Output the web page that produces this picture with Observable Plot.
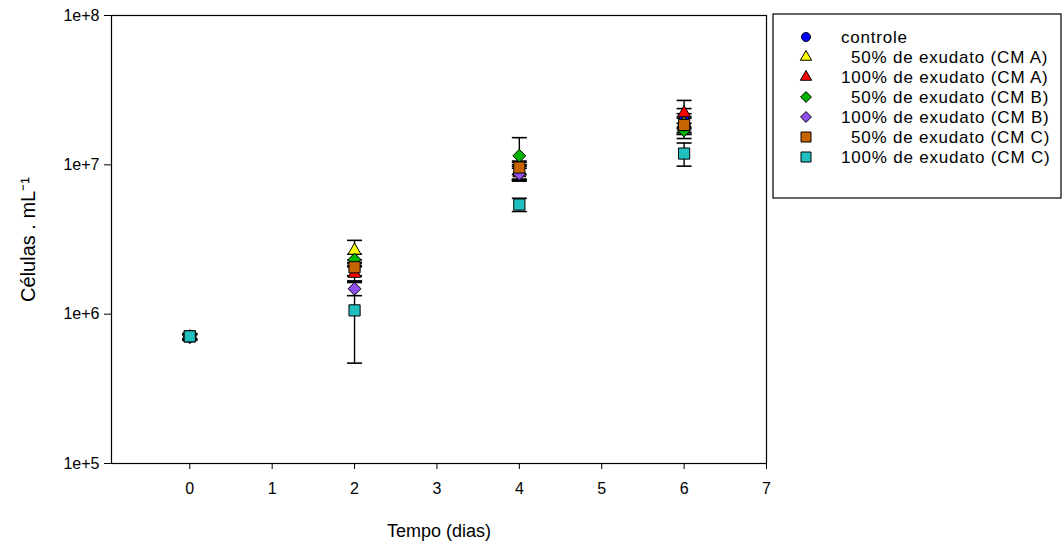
<!DOCTYPE html>
<html>
<head>
<meta charset="utf-8">
<script src="https://cdn.jsdelivr.net/npm/d3@7"></script>
<script src="https://cdn.jsdelivr.net/npm/@observablehq/plot@0.6"></script>
<style>
  html, body { margin: 0; padding: 0; background: white; }
  #chart { position: relative; width: 1064px; height: 547px; }
</style>
</head>
<body>
<div id="chart"></div>
<script>
// ---- data ----
const days = [0, 2, 4, 6];
const seriesNames = [
  "controle",
  "50% de exudato (CM A)",
  "100% de exudato (CM A)",
  "50% de exudato (CM B)",
  "100% de exudato (CM B)",
  "50% de exudato (CM C)",
  "100% de exudato (CM C)"
];
const controle = [7.1e5, 2.0e6, 9.0e6, 2.08e7];
const controleErr = [3e4, 2.0e5, 1.0e6, 3.0e6];
const a50 = [7.0e5, 2.67e6, 9.2e6, 1.9e7];
const a50Err = [3e4, 4.5e5, 1.2e6, 3.0e6];
const a100 = [7.0e5, 1.87e6, 8.8e6, 2.22e7];
const a100Err = [3e4, 2.0e5, 1.0e6, 4.8e6];
const b50 = [7.1e5, 2.32e6, 1.15e7, 1.7e7];
const b50Err = [3e4, 2.0e5, 3.7e6, 2.0e6];
const b100 = [7.0e5, 1.48e6, 8.7e6, 1.85e7];
const b100Err = [3e4, 1.5e5, 8.0e5, 2.5e6];
const c50 = [7.1e5, 2.06e6, 9.6e6, 1.85e7];
const c50Err = [3e4, 2.5e5, 1.0e6, 2.0e6];
const c100 = [7.1e5, 1.06e6, 5.42e6, 1.19e7];
const c100Err = [3e4, 5.9e5, 5.5e5, 2.1e6];
const seriesValues = [controle, a50, a100, b50, b100, c50, c100];
const seriesErrors = [controleErr, a50Err, a100Err, b50Err, b100Err, c50Err, c100Err];
const seriesSymbols = ["circle", "triangle", "triangle", "diamond2", "diamond2", "square", "square"];
const seriesColors = ["#0000ff", "#ffff00", "#ff0000", "#00b400", "#9050f0", "#c86400", "#20c0c0"];
const xTicks = [0, 1, 2, 3, 4, 5, 6, 7];
const yTicks = [1e5, 1e6, 1e7, 1e8];

// marker sizes per symbol type (plot / legend)
const plotR = {circle: 5, triangle: 4.8, diamond2: 5.8, square: 6.3};
const legendArea = {circle: 64, triangle: 55, diamond2: 75, square: 100};

// ---- build table ----
const rows = [];
seriesNames.forEach((name, s) => {
  days.forEach((d, i) => {
    const v = seriesValues[s][i], e = seriesErrors[s][i];
    rows.push({series: name, s, day: d, value: v, lo: v - e, hi: v + e});
  });
});

const capSymbol = {
  draw(context) {
    context.moveTo(-7.5, 0);
    context.lineTo(7.5, 0);
  }
};

const marks = [
  Plot.frame({stroke: "black", strokeWidth: 1.2}),
  Plot.axisX({ticks: xTicks, tickSize: 6, tickPadding: 13, label: null, fontSize: 16}),
  Plot.axisY({ticks: yTicks, tickSize: 7, tickPadding: 5, label: null, fontSize: 16,
              tickFormat: d => "1e+" + Math.round(Math.log10(d))}),
  Plot.text(["Tempo (dias)"], {frameAnchor: "bottom", dy: 68, lineAnchor: "middle", textAnchor: "middle", fontSize: 18}),
  Plot.text(["Células . mL⁻¹"], {frameAnchor: "left", dx: -83, rotate: -90, textAnchor: "middle", lineAnchor: "middle", fontSize: 20})
];

seriesNames.forEach((name, s) => {
  const data = rows.filter(r => r.s === s);
  marks.push(
    Plot.ruleX(data, {x: "day", y1: "lo", y2: "hi", stroke: "black", strokeWidth: 1.4}),
    Plot.dot(data, {x: "day", y: "lo", symbol: capSymbol, r: 5, stroke: "black", strokeWidth: 1.6, fill: "none"}),
    Plot.dot(data, {x: "day", y: "hi", symbol: capSymbol, r: 5, stroke: "black", strokeWidth: 1.6, fill: "none"})
  );
});
seriesNames.forEach((name, s) => {
  const data = rows.filter(r => r.s === s);
  marks.push(
    Plot.dot(data, {x: "day", y: "value", symbol: seriesSymbols[s], r: plotR[seriesSymbols[s]],
                    fill: seriesColors[s], stroke: "black", strokeWidth: 1})
  );
});

const chart = Plot.plot({
  width: 1064,
  height: 547,
  marginLeft: 111,
  marginRight: 298,
  marginTop: 15,
  marginBottom: 84,
  style: {fontFamily: "'Liberation Sans', Arial, sans-serif", fontSize: "16px", background: "white", color: "black"},
  x: {domain: [-0.95, 7]},
  y: {type: "log", domain: [1e5, 1e8]},
  marks
});

// ---- legend (drawn in the same SVG) ----
const svg = d3.select(chart);
const lg = svg.append("g").attr("transform", "translate(773,14)");
lg.append("rect").attr("width", 288).attr("height", 184)
  .attr("fill", "white").attr("stroke", "black").attr("stroke-width", 1.2);
const d3Sym = {circle: d3.symbolCircle, triangle: d3.symbolTriangle, diamond2: d3.symbolDiamond2, square: d3.symbolSquare};
seriesNames.forEach((name, s) => {
  const y = 23 + s * 20;
  const sym = seriesSymbols[s];
  lg.append("path")
    .attr("transform", `translate(33,${y})`)
    .attr("d", d3.symbol(d3Sym[sym], legendArea[sym])())
    .attr("fill", seriesColors[s]).attr("stroke", "black").attr("stroke-width", 1);
  lg.append("text")
    .attr("x", name.startsWith("50%") ? 78 : 68).attr("y", y)
    .attr("dy", "0.36em")
    .attr("text-anchor", "start")
    .attr("font-size", 17).attr("letter-spacing", "0.8px")
    .attr("fill", "black")
    .text(name);
});

document.getElementById("chart").appendChild(chart);
</script>
</body>
</html>
